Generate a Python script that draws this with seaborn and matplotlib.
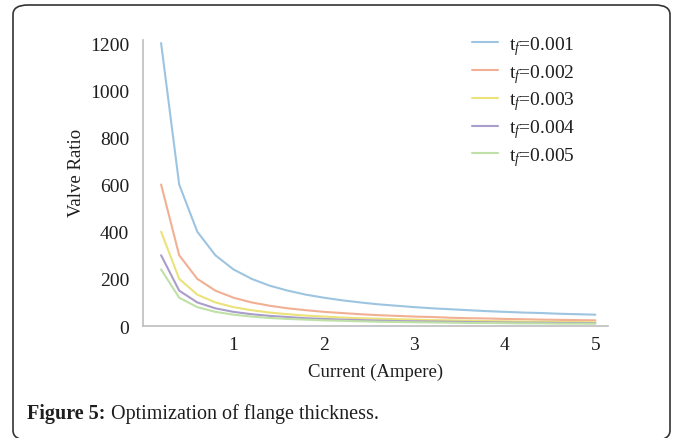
import numpy as np
import pandas as pd
import matplotlib
matplotlib.use("Agg")
import matplotlib.pyplot as plt
from matplotlib.patches import FancyBboxPatch
import seaborn as sns

# Current values (A) and valve ratio for each flange thickness t_f
current = [0.2, 0.4, 0.6, 0.8, 1.0, 1.2, 1.4, 1.6, 1.8, 2.0, 2.2, 2.4, 2.6,
           2.8, 3.0, 3.2, 3.4, 3.6, 3.8, 4.0, 4.2, 4.4, 4.6, 4.8, 5.0]
tf_labels = ["0.001", "0.002", "0.003", "0.004", "0.005"]
ratio_001 = [1200, 600, 400, 300, 240, 200, 171, 150, 133, 120, 109, 100, 92,
             86, 80, 75, 71, 67, 63, 60, 57, 55, 52, 50, 48]
ratio_002 = [600, 300, 200, 150, 120, 100, 86, 75, 67, 60, 55, 50, 46,
             43, 40, 38, 35, 33, 32, 30, 29, 27, 26, 25, 24]
ratio_003 = [400, 200, 133, 100, 80, 67, 57, 50, 44, 40, 36, 33, 31,
             29, 27, 25, 24, 22, 21, 20, 19, 18, 17, 17, 16]
ratio_004 = [300, 150, 100, 75, 60, 50, 43, 38, 33, 30, 27, 25, 23,
             21, 20, 19, 18, 17, 16, 15, 14, 14, 13, 13, 12]
ratio_005 = [240, 120, 80, 60, 48, 40, 34, 30, 27, 24, 22, 20, 18,
             17, 16, 15, 14, 13, 13, 12, 11, 11, 10, 10, 10]
x_ticks = [1, 2, 3, 4, 5]
y_ticks = [0, 200, 400, 600, 800, 1000, 1200]

series = [ratio_001, ratio_002, ratio_003, ratio_004, ratio_005]
names = [f"t$_{{f}}$={t}" for t in tf_labels]
df = pd.concat(
    [pd.DataFrame({"Current": current, "Ratio": vals, "tf": name})
     for vals, name in zip(series, names)],
    ignore_index=True,
)

sns.set_theme(style="white")
plt.rcParams["font.family"] = ["Liberation Serif", "DejaVu Serif"]
plt.rcParams["mathtext.fontset"] = "custom"
plt.rcParams["mathtext.rm"] = "Liberation Serif"
plt.rcParams["mathtext.it"] = "Liberation Serif:italic"

palette = ["#9dc4e0", "#f1b093", "#ece27a", "#a99dcb", "#bfe0a6"]
W, H = 673, 439

fig = plt.figure(figsize=(W / 100, H / 100), dpi=100)
ax = fig.add_axes([143 / W, 1 - 327 / H, (608 - 143) / W, (327 - 41) / H])

sns.lineplot(data=df, x="Current", y="Ratio", hue="tf", palette=palette,
             linewidth=1.5, ax=ax, legend=True)

ax.set_xlim(0, 5.14)
ax.set_ylim(0, 1213)
ax.set_xticks(x_ticks)
ax.set_yticks(y_ticks)
ax.set_xticklabels([str(t) for t in x_ticks], fontsize=14, color="#1e1e1e")
ax.set_yticklabels([str(t) for t in y_ticks], fontsize=14, color="#1e1e1e")
ax.tick_params(axis="both", direction="in", length=4, width=1, color="#b0b0b0")
ax.tick_params(axis="y", pad=10)
ax.tick_params(axis="x", pad=7)
for side in ["top", "right"]:
    ax.spines[side].set_visible(False)
for side in ["left", "bottom"]:
    ax.spines[side].set_color("#bdbdbd")
    ax.spines[side].set_linewidth(1.2)

ax.set_xlabel("Current (Ampere)", fontsize=13.5, color="#1e1e1e", labelpad=7)
ax.set_ylabel("Valve Ratio", fontsize=13.5, color="#1e1e1e")
ax.yaxis.set_label_coords(-0.125, 0.54)

leg = ax.legend(loc="upper left", bbox_to_anchor=(472 / W, 1 - 35 / H),
                bbox_transform=fig.transFigure, frameon=False,
                fontsize=14, handlelength=1.35, handletextpad=0.55,
                labelspacing=0.25, borderpad=0, borderaxespad=0, title=None)
for t in leg.get_texts():
    t.set_color("#1e1e1e")

# Rounded frame around the whole figure
frame = FancyBboxPatch((13 / W, -2 / H), 657 / W, 435 / H,
                       boxstyle="round,pad=0,rounding_size=0.022",
                       transform=fig.transFigure, fill=False,
                       edgecolor="#333333", linewidth=1.2, clip_on=False)
fig.patches.append(frame)

fig.text(27 / W, 1 - 419 / H, "Figure 5:", fontsize=14.5, fontweight="bold",
         color="#1e1e1e", va="baseline", ha="left")
fig.text(111 / W, 1 - 419 / H, "Optimization of flange thickness.", fontsize=14.5,
         color="#1e1e1e", va="baseline", ha="left")

fig.savefig("out.png", dpi=100)
